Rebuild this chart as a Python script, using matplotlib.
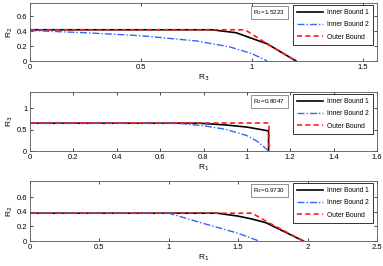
import matplotlib
matplotlib.use("Agg")
import matplotlib.pyplot as plt

plt.rcParams['font.family'] = ['Liberation Sans', 'DejaVu Sans']

# panel 1: R3 vs R2, R1 fixed
p1_ib1_x = [0, 0.82, 0.93, 1.07, 1.20]
p1_ib1_y = [0.42, 0.42, 0.38, 0.23, 0.0]
p1_ib2_x = [0, 0.25, 0.5, 0.75, 0.9, 1.0, 1.07]
p1_ib2_y = [0.41, 0.38, 0.34, 0.27, 0.19, 0.10, 0.0]
p1_ob_x = [0, 0.97, 1.07, 1.20]
p1_ob_y = [0.42, 0.42, 0.23, 0.0]

# panel 2: R1 vs R3, R2 fixed
p2_ib1_x = [0, 0.78, 0.9, 1.0, 1.1, 1.1]
p2_ib1_y = [0.65, 0.65, 0.61, 0.56, 0.47, 0.0]
p2_ib2_x = [0, 0.68, 0.8, 0.9, 1.0, 1.05, 1.1]
p2_ib2_y = [0.65, 0.65, 0.59, 0.51, 0.36, 0.22, 0.0]
p2_ob_x = [0, 1.1, 1.1]
p2_ob_y = [0.65, 0.65, 0.0]

# panel 3: R1 vs R2, R3 fixed
p3_ib1_x = [0, 1.35, 1.5, 1.6, 1.7, 1.97]
p3_ib1_y = [0.38, 0.38, 0.34, 0.30, 0.25, 0.0]
p3_ib2_x = [0, 1.0, 1.25, 1.5, 1.65]
p3_ib2_y = [0.38, 0.38, 0.24, 0.105, 0.0]
p3_ob_x = [0, 1.6, 1.72, 1.97]
p3_ob_y = [0.38, 0.38, 0.25, 0.0]

panels = [
    dict(ib1=(p1_ib1_x, p1_ib1_y), ib2=(p1_ib2_x, p1_ib2_y), ob=(p1_ob_x, p1_ob_y),
         xlim=(0, 1.565), ylim=(0, 0.78), xticks=[0, 0.5, 1, 1.5],
         xticklabels=['0', '0.5', '1', '1.5'],
         yticks=[0, 0.2, 0.4, 0.6], yticklabels=['0', '0.2', '0.4', '0.6'],
         xlabel='R$_3$', ylabel='R$_2$', note='R$_1$=1.5223'),
    dict(ib1=(p2_ib1_x, p2_ib1_y), ib2=(p2_ib2_x, p2_ib2_y), ob=(p2_ob_x, p2_ob_y),
         xlim=(0, 1.6), ylim=(0, 1.38), xticks=[0, 0.2, 0.4, 0.6, 0.8, 1, 1.2, 1.4, 1.6],
         xticklabels=['0', '0.2', '0.4', '0.6', '0.8', '1', '1.2', '1.4', '1.6'],
         yticks=[0, 0.5, 1], yticklabels=['0', '0.5', '1'],
         xlabel='R$_1$', ylabel='R$_3$', note='R$_2$=0.8047'),
    dict(ib1=(p3_ib1_x, p3_ib1_y), ib2=(p3_ib2_x, p3_ib2_y), ob=(p3_ob_x, p3_ob_y),
         xlim=(0, 2.5), ylim=(0, 0.82), xticks=[0, 0.5, 1, 1.5, 2, 2.5],
         xticklabels=['0', '0.5', '1', '1.5', '2', '2.5'],
         yticks=[0, 0.2, 0.4, 0.6], yticklabels=['0', '0.2', '0.4', '0.6'],
         xlabel='R$_1$', ylabel='R$_2$', note='R$_3$=0.9730'),
]

W, H = 383, 266
fig = plt.figure(figsize=(W / 100, H / 100), dpi=100)

# axes boxes in pixels: left, top, right, bottom
boxes = [(30, 3, 377, 61), (30, 92, 377, 151), (30, 181, 377, 241)]

for p, (l, t, r, b) in zip(panels, boxes):
    aw, ah = r - l, b - t
    ax = fig.add_axes([l / W, 1 - b / H, aw / W, ah / H])
    ax.plot(*p['ib1'], color='black', lw=1.2, label='Inner Bound 1')
    ax.plot(*p['ib2'], color='#3366ff', lw=1.0, ls='-.', dashes=(5, 1.5, 1, 1.5),
            label='Inner Bound 2')
    ax.plot(*p['ob'], color='#ff1a1a', lw=1.2, ls='--', dashes=(3, 2), label='Outer Bound')
    ax.set_xlim(*p['xlim'])
    ax.set_ylim(*p['ylim'])
    ax.set_xticks(p['xticks'])
    ax.set_xticklabels(p['xticklabels'])
    ax.set_yticks(p['yticks'])
    ax.set_yticklabels(p['yticklabels'])
    ax.tick_params(labelsize=5.5, length=2, width=0.5, direction='in', pad=2,
                   top=True, right=True)
    for s in ax.spines.values():
        s.set_linewidth(0.6)
        s.set_color('#555555')
    ax.set_xlabel(p['xlabel'], fontsize=6, labelpad=1)
    ax.set_ylabel(p['ylabel'], fontsize=6, labelpad=1)
    leg = ax.legend(loc='upper right', bbox_to_anchor=(1 - 4 / aw, 1 - 2 / ah),
                    fontsize=4.8, frameon=True, fancybox=False,
                    edgecolor='black', handlelength=4.0, borderpad=0.6,
                    labelspacing=0.8, borderaxespad=0.0, handletextpad=0.6)
    leg.get_frame().set_linewidth(0.7)
    ax.text(0.69, 0.84, p['note'], transform=ax.transAxes, fontsize=4.5,
            ha='center', va='center',
            bbox=dict(boxstyle='square,pad=0.35', fc='white', ec='#666666', lw=0.5))

fig.savefig('out.png', dpi=100)
